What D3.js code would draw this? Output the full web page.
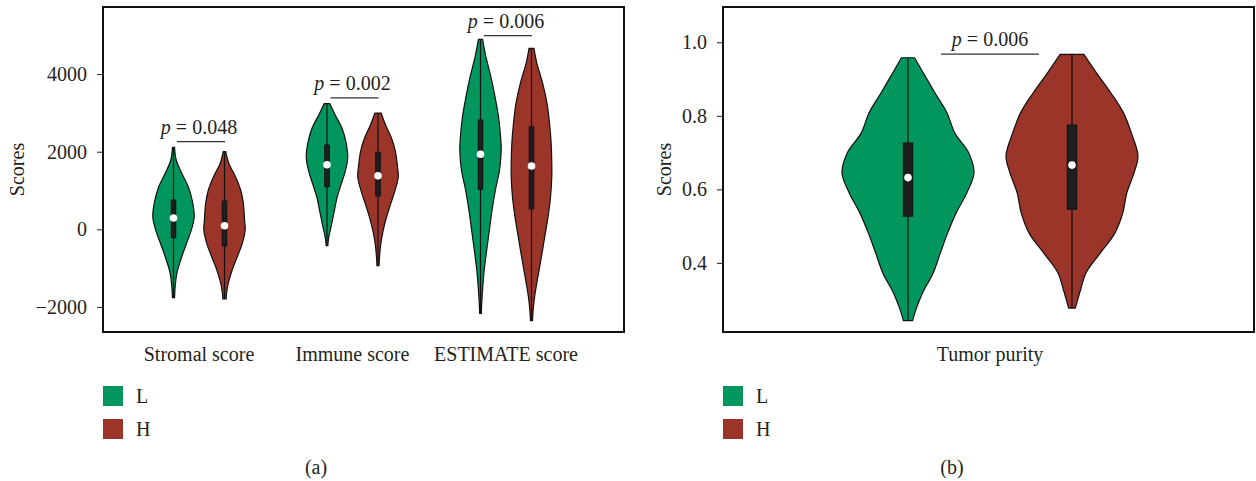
<!DOCTYPE html>
<html>
<head>
<meta charset="utf-8">
<script src="https://cdn.jsdelivr.net/npm/d3@7"></script>
<style>
  body { margin: 0; background: #fff; }
  text { font-family: "Liberation Serif", "Times New Roman", serif; fill: #231f20; }
</style>
</head>
<body>
<svg id="chart" width="1256" height="481"></svg>
<script>
// ---- data ----
const categoriesA = ['Stromal score', 'Immune score', 'ESTIMATE score'];
const categoriesB = ['Tumor purity'];
const groups = ['L', 'H'];
const groupColors = ['#00965e', '#9b3429'];
const ticksA = [-2000, 0, 2000, 4000];
const ticksB = [0.4, 0.6, 0.8, 1.0];

// density profiles: [value, relative width]
const stromalL = [[2113,0.05],[1786,0.13],[1443,0.4],[1098,0.71],[755,0.9],[325,1.0],[0,0.87],[-361,0.63],[-706,0.4],[-1134,0.16],[-1479,0.08],[-1763,0.05]];
const stromalH = [[2000,0.06],[1700,0.21],[1356,0.53],[1013,0.78],[670,0.91],[240,0.97],[-18,1.0],[-361,0.86],[-706,0.62],[-1049,0.37],[-1392,0.18],[-1649,0.1],[-1796,0.08]];
const immuneL = [[3237,0.14],[2954,0.39],[2611,0.72],[2268,0.91],[1837,1.0],[1494,0.88],[1150,0.68],[807,0.48],[464,0.35],[120,0.22],[-223,0.08],[-423,0.04]];
const immuneH = [[2997,0.15],[2696,0.36],[2353,0.65],[2010,0.84],[1580,0.95],[1350,0.98],[979,0.81],[636,0.6],[292,0.4],[-51,0.24],[-396,0.13],[-740,0.07],[-938,0.05]];
const estimateL = [[4896,0.1],[4448,0.26],[3933,0.5],[3417,0.7],[2902,0.87],[2386,0.97],[2044,1.0],[1528,0.92],[1013,0.72],[497,0.56],[-18,0.43],[-533,0.3],[-1049,0.18],[-1564,0.1],[-1907,0.06],[-2165,0.04]];
const estimateH = [[4665,0.12],[4278,0.26],[3762,0.54],[3247,0.75],[2732,0.87],[2216,0.95],[1700,0.98],[1356,0.98],[840,0.92],[325,0.8],[-191,0.64],[-706,0.48],[-1221,0.31],[-1737,0.15],[-2080,0.08],[-2356,0.05]];
const purityL = [[0.958,0.1],[0.917,0.23],[0.862,0.41],[0.808,0.59],[0.753,0.71],[0.699,0.92],[0.645,1.0],[0.590,0.89],[0.536,0.73],[0.481,0.6],[0.427,0.49],[0.372,0.38],[0.318,0.22],[0.273,0.12],[0.243,0.07]];
const purityH = [[0.967,0.18],[0.917,0.37],[0.862,0.59],[0.808,0.78],[0.753,0.9],[0.690,1.0],[0.645,0.94],[0.590,0.83],[0.536,0.77],[0.481,0.65],[0.427,0.43],[0.372,0.21],[0.327,0.13],[0.277,0.05]];

// box stats: [q1, median, q3]
const stromalLBox = [-216, 291, 755];
const stromalHBox = [-430, 93, 729];
const immuneLBox = [1098, 1665, 2173];
const immuneHBox = [858, 1382, 1985];
const estimateLBox = [1031, 1933, 2817];
const estimateHBox = [523, 1631, 2644];
const purityLBox = [0.527, 0.632, 0.726];
const purityHBox = [0.546, 0.666, 0.775];

const pValuesA = ['0.048', '0.002', '0.006'];
const pHeightsA = [2260, 3390, 4990];
const pValuesB = ['0.006'];
const pHeightsB = [0.968];

const svg = d3.select('#chart');

function drawPanel(o) {
  const g = svg.append('g');

  const y = d3.scaleLinear().domain(o.yDomain).range([o.bottom, o.top]);
  const x = d3.scalePoint().domain(o.categories).range(o.catRange);
  if (o.categories.length === 1) x.range([o.catRange[0], o.catRange[0]]);
  const gx = d3.scalePoint().domain(groups).range([-o.groupOffset, o.groupOffset]);
  const w = d3.scaleLinear().domain([0, 1]).range([0, o.halfWidth]);

  // frame
  g.append('rect')
    .attr('x', o.left).attr('y', o.top)
    .attr('width', o.right - o.left).attr('height', o.bottom - o.top)
    .attr('fill', 'none').attr('stroke', '#111').attr('stroke-width', 2);

  // y axis
  const yAxis = d3.axisLeft(y).tickValues(o.ticks).tickSize(6).tickPadding(10)
    .tickFormat(o.tickFormat);
  const ax = g.append('g').attr('transform', 'translate(' + o.left + ',0)').call(yAxis);
  ax.select('.domain').remove();
  ax.selectAll('line').attr('stroke', '#222');
  ax.selectAll('text').style('font-size', '20px').attr('fill', '#231f20')
    .text(d => d < 0 ? '\u2212' + o.tickFormat(-d) : o.tickFormat(d));

  g.append('text')
    .attr('transform', 'translate(' + o.titleX + ',' + ((o.top + o.bottom) / 2) + ') rotate(-90)')
    .attr('text-anchor', 'middle').attr('dy', '0.35em')
    .style('font-size', '20px').text('Scores');

  // violins
  o.violins.forEach(v => {
    const cx = x(v.cat) + gx(v.group);
    const color = groupColors[groups.indexOf(v.group)];
    const dens = v.dens.slice().sort((a, b) => a[0] - b[0]);
    const area = d3.area()
      .y(d => y(d[0]))
      .x0(d => cx - w(d[1]))
      .x1(d => cx + w(d[1]))
      .curve(d3.curveCatmullRom.alpha(0.5));
    g.append('path').attr('d', area(dens))
      .attr('fill', color).attr('stroke', '#111').attr('stroke-width', 1.2);
    const ext = d3.extent(dens, d => d[0]);
    g.append('line')
      .attr('x1', cx).attr('x2', cx).attr('y1', y(ext[0])).attr('y2', y(ext[1]))
      .attr('stroke', '#111').attr('stroke-width', 1.2);
    g.append('rect')
      .attr('x', cx - o.boxWidth / 2).attr('width', o.boxWidth)
      .attr('y', y(v.box[2])).attr('height', y(v.box[0]) - y(v.box[2]))
      .attr('fill', '#1e1e1e').attr('stroke', '#111').attr('stroke-width', 1);
    g.append('circle')
      .attr('cx', cx).attr('cy', y(v.box[1])).attr('r', 3.8).attr('fill', '#fff');
  });

  // p-value brackets
  o.categories.forEach((c, i) => {
    const cx = x(c);
    const ly = y(o.pHeights[i]);
    g.append('line')
      .attr('x1', cx + o.lineShift - o.lineHalf).attr('x2', cx + o.lineShift + o.lineHalf)
      .attr('y1', ly).attr('y2', ly)
      .attr('stroke', '#333').attr('stroke-width', 1.2);
    const t = g.append('text').attr('x', cx).attr('y', ly - 8)
      .attr('text-anchor', 'middle').style('font-size', '20px');
    t.append('tspan').style('font-style', 'italic').text('p');
    t.append('tspan').text(' = ' + o.pValues[i]);
  });

  // category labels
  g.selectAll('.cat').data(o.categories).enter().append('text')
    .attr('x', d => x(d)).attr('y', o.bottom + 29)
    .attr('text-anchor', 'middle').style('font-size', '20px')
    .text(d => d);

  // legend
  groups.forEach((gr, i) => {
    g.append('rect')
      .attr('x', o.left).attr('y', 386 + i * 33)
      .attr('width', 20).attr('height', 20)
      .attr('fill', groupColors[i]);
    g.append('text')
      .attr('x', o.left + 33).attr('y', 396 + i * 33).attr('dy', '0.35em')
      .style('font-size', '20px').text(gr);
  });

  g.append('text')
    .attr('x', o.labelX).attr('y', 467).attr('dy', '0.35em')
    .attr('text-anchor', 'middle').style('font-size', '20px').text(o.label);
}

drawPanel({
  left: 103, right: 624, top: 7, bottom: 332,
  yDomain: [-2647, 5730], ticks: ticksA, tickFormat: d3.format('d'),
  categories: categoriesA, catRange: [199, 506], groupOffset: 25.5,
  halfWidth: 20.7, boxWidth: 4.5,
  violins: [
    {cat: categoriesA[0], group: 'L', dens: stromalL, box: stromalLBox},
    {cat: categoriesA[0], group: 'H', dens: stromalH, box: stromalHBox},
    {cat: categoriesA[1], group: 'L', dens: immuneL, box: immuneLBox},
    {cat: categoriesA[1], group: 'H', dens: immuneH, box: immuneHBox},
    {cat: categoriesA[2], group: 'L', dens: estimateL, box: estimateLBox},
    {cat: categoriesA[2], group: 'H', dens: estimateH, box: estimateHBox}
  ],
  pValues: pValuesA, pHeights: pHeightsA, lineHalf: 24, lineShift: 2,
  titleX: 17, label: '(a)', labelX: 316
});

drawPanel({
  left: 723, right: 1254, top: 7, bottom: 332,
  yDomain: [0.212, 1.096], ticks: ticksB, tickFormat: d3.format('.1f'),
  categories: categoriesB, catRange: [990, 990], groupOffset: 82,
  halfWidth: 66, boxWidth: 9.5,
  violins: [
    {cat: categoriesB[0], group: 'L', dens: purityL, box: purityLBox},
    {cat: categoriesB[0], group: 'H', dens: purityH, box: purityHBox}
  ],
  pValues: pValuesB, pHeights: pHeightsB, lineHalf: 49, lineShift: 0,
  titleX: 664, label: '(b)', labelX: 952
});
</script>
</body>
</html>
